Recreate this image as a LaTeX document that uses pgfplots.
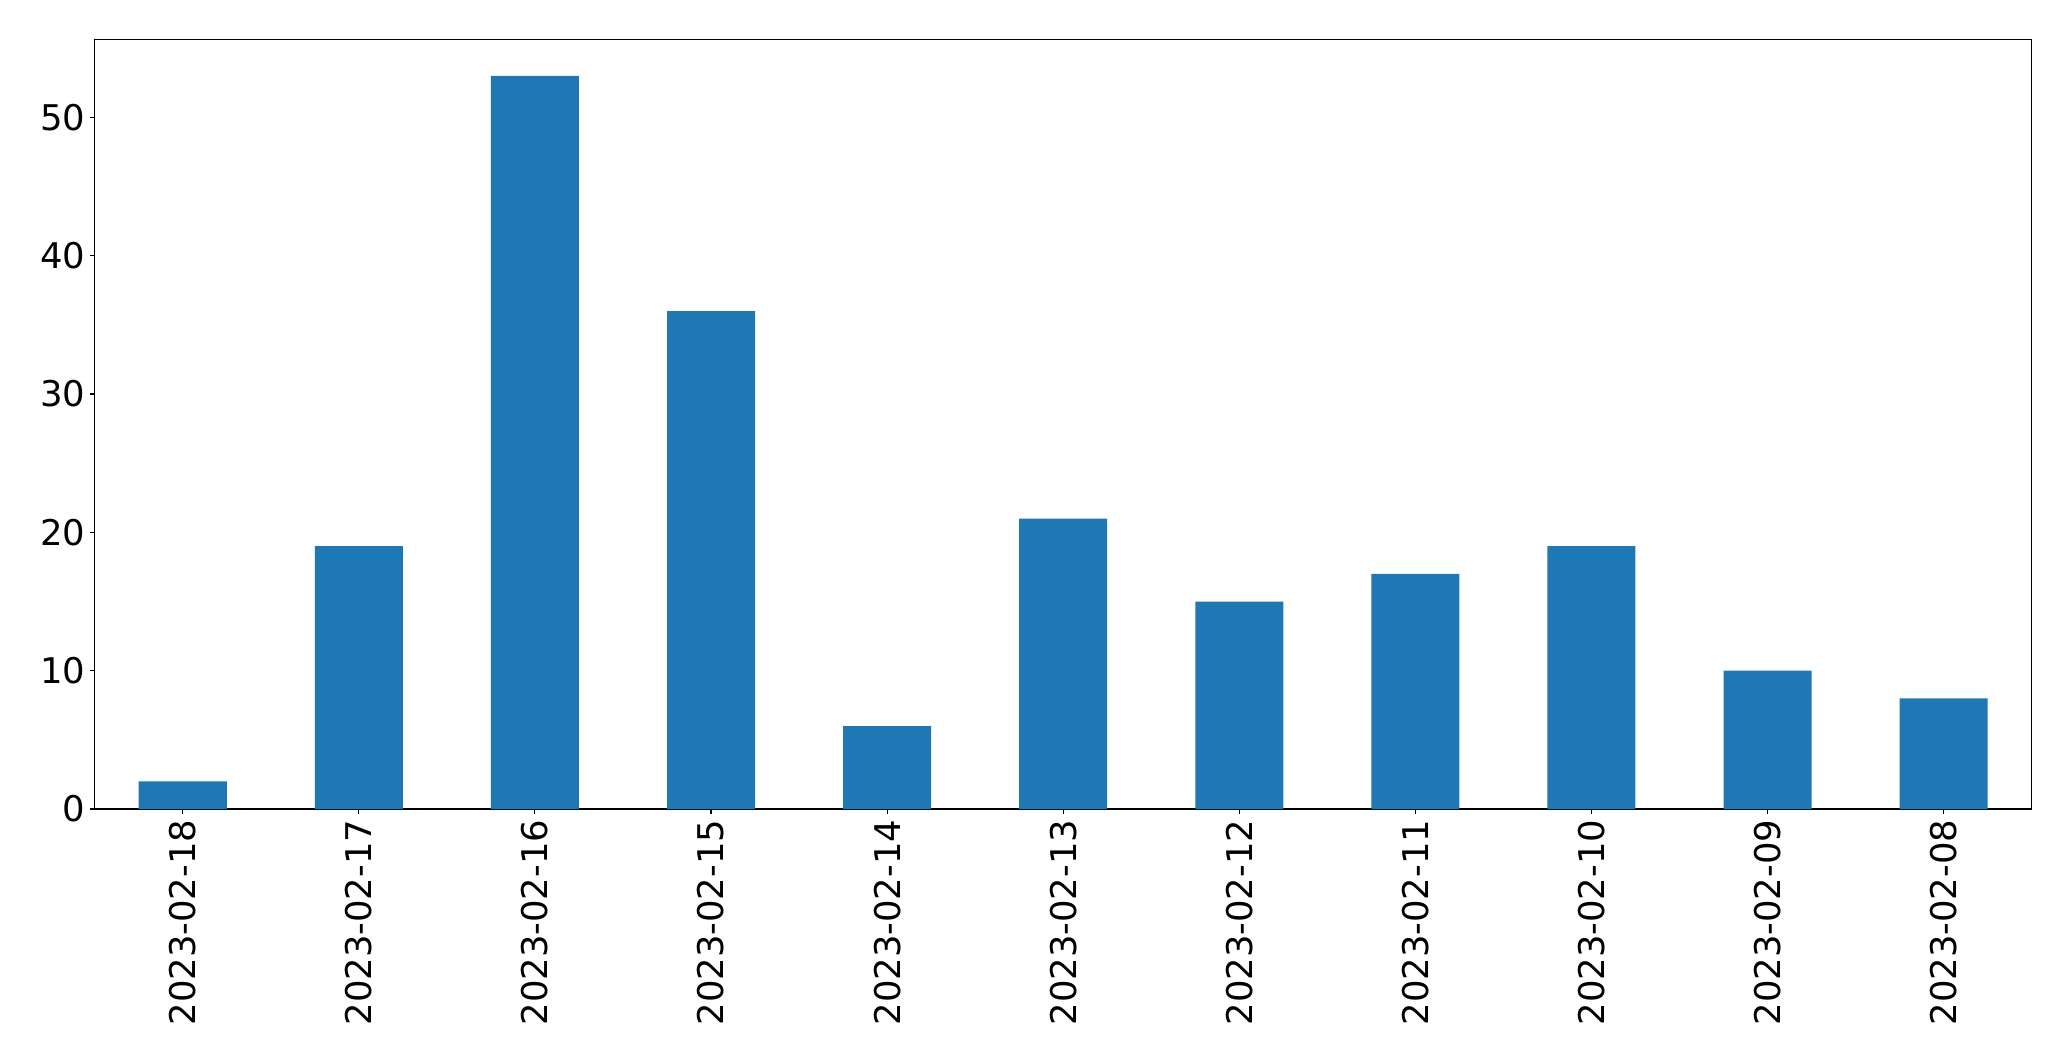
\documentclass[border=0pt]{standalone}
\usepackage{pgfplots}
\pgfplotsset{compat=1.18}
\usepackage{fontspec}
\setmainfont{DejaVu Sans}
\definecolor{mplblue}{HTML}{1F77B4}
\begin{document}
\begin{tikzpicture}
\useasboundingbox (-68.2bp,-181.44bp) rectangle (1422.92bp,582.48bp);
\begin{axis}[
  at={(0,0)}, anchor=south west,
  scale only axis, width=1394.6bp, height=554.2bp,
  xmin=-0.5, xmax=10.5, ymin=0, ymax=55.65,
  xtick={0,1,2,3,4,5,6,7,8,9,10},
  xticklabels={2023-02-18,2023-02-17,2023-02-16,2023-02-15,2023-02-14,2023-02-13,2023-02-12,2023-02-11,2023-02-10,2023-02-09,2023-02-08},
  ytick={0,10,20,30,40,50},
  tick align=outside, tick pos=left,
  major tick length=3.5bp,
  every tick/.style={black, line width=0.8bp},
  axis line style={black, line width=0.8bp},
  ticklabel style={font=\fontsize{25.5bp}{30bp}\selectfont},
  /pgf/number format/assume math mode=true,
  xticklabel style={rotate=90, anchor=east, inner sep=0pt},
  yticklabel style={anchor=east, inner sep=0pt},
  xticklabel shift=4bp,
  yticklabel shift=3bp,
]
\addplot[ybar, bar width=0.5, fill=mplblue, draw=none] coordinates {
(0,2) (1,19) (2,53) (3,36) (4,6) (5,21) (6,15) (7,17) (8,19) (9,10) (10,8)
};
\end{axis}
\end{tikzpicture}
\end{document}
